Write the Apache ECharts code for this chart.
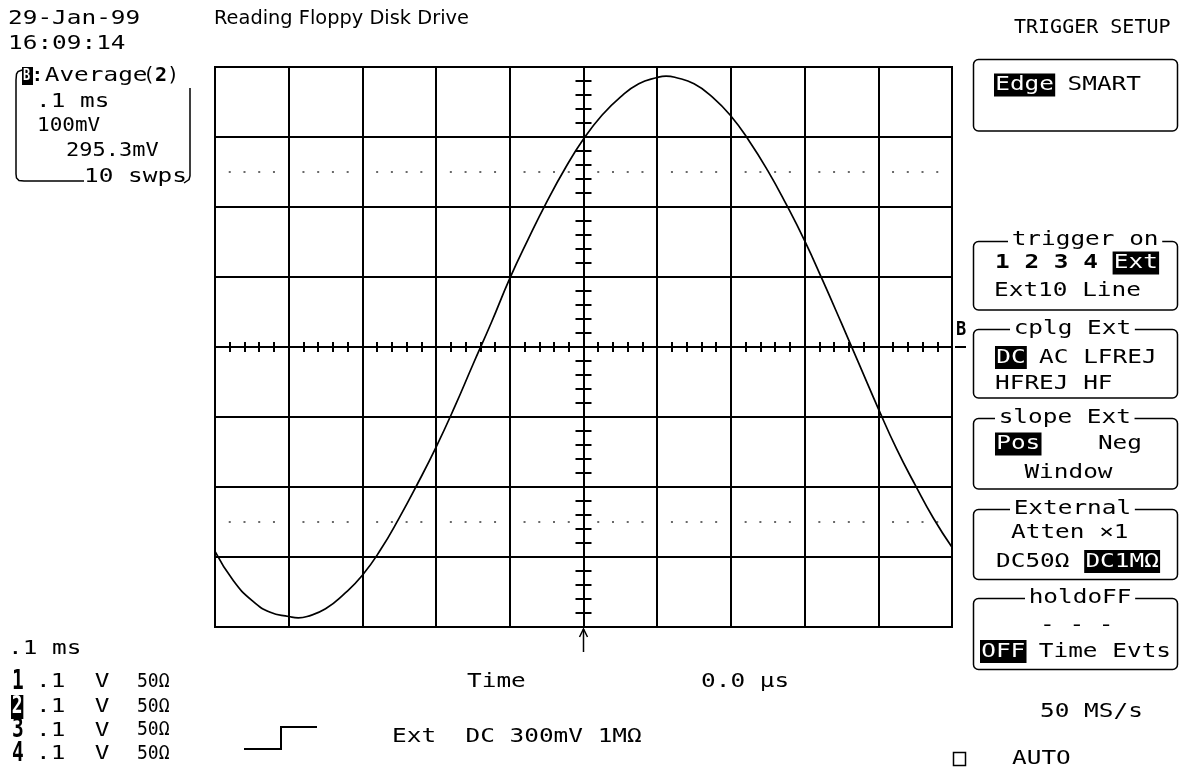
<!DOCTYPE html>
<html>
<head>
<meta charset="utf-8">
<script src="https://cdn.jsdelivr.net/npm/echarts@6/dist/echarts.min.js"></script>
<style>
html,body{margin:0;padding:0;background:#fff;}
#c{width:1179px;height:769px;}
</style>
</head>
<body>
<div id="c"></div>
<script>
// ---- data (time in µs, trace in mV) ----
const timeUs = [-500,-475,-450,-425,-400,-387,-375,-350,-325,-300,-275,-250,-225,-200,-175,-150,-125,-100,-75,-50,-25,0,25,50,75,100,112,125,150,175,200,225,250,275,300,325,350,375,400,425,450,475,500];
const traceMv = [-292,-334,-362,-379,-385,-387,-385,-374,-353,-326,-289,-244,-195,-143,-86,-25,35,98,154,207,255,297,331,357,376,385,387,385,376,357,330,294,252,204,152,94,34,-27,-88,-146,-197,-245,-286];
const dotLevelsMv = [250, -250];
const timeRange = [-500, 500];   // 0.1 ms/div, 10 div
const voltRange = [-400, 400];   // 100 mV/div, 8 div
const majorX = 100, majorY = 100, minorSplit = 5;

const tracePairs = timeUs.map((t, i) => [t, traceMv[i]]);
const dotPairs = [];
const minorStep = majorX / minorSplit;
dotLevelsMv.forEach(lv => {
  for (let t = timeRange[0]; t <= timeRange[1]; t += minorStep) {
    if (t % majorX !== 0) dotPairs.push([t, lv]);
  }
});

const FONT = '"DejaVu Sans Mono", monospace';
const CW = 14.7;
function txt(text, x, y, o) {
  o = o || {};
  const size = o.size || 20;
  const style = {
    text: text, x: 0, y: 0,
    fill: o.fill || '#000',
    font: (o.bold ? 'bold ' : '') + size + 'px ' + (o.family || FONT),
    align: 'left', textAlign: 'left',
    verticalAlign: 'middle', textVerticalAlign: 'middle'
  };
  if (o.bg) { style.backgroundColor = o.bg; style.padding = o.pad || [1, 1]; }
  return { type: 'text', x: x, y: y, scaleX: o.sx == null ? 1.22 : o.sx, z: o.z || 100, silent: true, style: style };
}
function hl(text, x, y, o) {
  o = o || {};
  return txt(text, x, y, Object.assign({ fill: '#fff', bg: '#000', pad: [2, 1, 1, 1] }, o));
}
function box(x, y, w, h) {
  return { type: 'rect', z: 90, silent: true, shape: { x: x, y: y, width: w, height: h, r: 5 },
    style: { fill: 'none', stroke: '#000', lineWidth: 1.5 } };
}
function title(text, x, y) {
  return txt(text, x, y, { bg: '#fff', pad: [0, 3, 0, 3] });
}
function line(points, w) {
  return { type: 'polyline', z: 95, silent: true, shape: { points: points },
    style: { stroke: '#000', lineWidth: w || 1.5, fill: 'none' } };
}

const graphics = [
  // header
  txt('29-Jan-99', 8, 19),
  txt('16:09:14', 8, 44),
  txt('Reading Floppy Disk Drive', 214, 19, { family: '"DejaVu Sans", sans-serif', size: 19, sx: 1.02 }),
  txt('TRIGGER SETUP', 1014, 28, { sx: 1.0 }),
  // trace info box
  { type: 'rect', z: 100, silent: true, shape: { x: 22, y: 67, width: 11, height: 18 }, style: { fill: '#000' } },
  txt('B', 23, 76, { fill: '#fff', bold: true, size: 16, sx: 0.75, z: 101 }),
  txt(':Average', 30, 76),
  txt('(', 143, 76, { sx: 1.0 }),
  txt('2', 155, 76, { bold: true, sx: 1.0 }),
  txt(')', 167, 76, { sx: 1.0 }),
  txt('.1 ms', 36, 102),
  txt('100mV', 37, 126, { sx: 1.05 }),
  txt('295.3mV', 66, 151, { sx: 1.1 }),
  txt('10 swps', 84, 177),
  line([[22, 70], [18, 71.5], [16.5, 74], [16, 80], [16, 174], [16.5, 178], [19, 180.5], [24, 181], [84, 181]], 1.5),
  line([[190, 88], [190, 176], [189, 179.5], [184, 183]], 1.5),

  // right panel boxes
  box(973.5, 59.5, 204, 71.5),
  hl('Edge', 994, 85),
  txt('SMART', 994 + 5 * CW, 85),

  box(973.5, 241.5, 204, 68.5),
  title('trigger on', 1008, 240),
  txt('1 2 3 4', 995, 263, { bold: true }),
  hl('Ext', 995 + 8 * CW, 263),
  txt('Ext10 Line', 994, 291),

  box(973.5, 329.5, 204, 68.5),
  title('cplg Ext', 1010, 329),
  hl('DC', 995, 357.5),
  txt('AC LFREJ', 995 + 3 * CW, 357.5),
  txt('HFREJ HF', 995, 384),

  box(973.5, 418.5, 204, 70.5),
  title('slope Ext', 995, 418),
  hl('Pos', 995, 444),
  txt('Neg', 995 + 7 * CW, 444),
  txt('Window', 995 + 2 * CW, 473),

  box(973.5, 509.5, 204, 70),
  title('External', 1010, 509),
  txt('Atten \u00d71', 1011, 533),
  txt('DC50\u03a9', 996, 561.5),
  hl('DC1M\u03a9', 996 + 6 * CW, 561.5),

  box(973.5, 598.5, 204, 71),
  title('holdoFF', 1025, 598),
  txt('- - -', 1040, 626),
  hl('OFF', 980, 651.5),
  txt('Time Evts', 980 + 4 * CW, 651.5),

  txt('50 MS/s', 1040, 711.5),
  { type: 'rect', z: 95, silent: true, shape: { x: 953.5, y: 752.5, width: 12, height: 13 },
    style: { fill: 'none', stroke: '#000', lineWidth: 1.5 } },
  txt('AUTO', 1012, 759),

  // bottom left channel list
  txt('.1 ms', 8, 649),
  txt('1', 12, 682, { bold: true, size: 26, sx: 0.75 }),
  hl('2', 11, 707, { bold: true, size: 24, sx: 0.75, pad: [0, 1, 0, 1] }),
  txt('3', 12, 730.5, { bold: true, size: 26, sx: 0.75 }),
  txt('4', 12, 754, { bold: true, size: 26, sx: 0.75 }),
  txt('.1  V', 36, 682), txt('.1  V', 36, 707), txt('.1  V', 36, 730.5), txt('.1  V', 36, 754),
  txt('50\u03a9', 137, 682, { sx: 0.95, size: 19 }),
  txt('50\u03a9', 137, 707, { sx: 0.95, size: 19 }),
  txt('50\u03a9', 137, 730.5, { sx: 0.95, size: 19 }),
  txt('50\u03a9', 137, 754, { sx: 0.95, size: 19 }),

  // trigger symbol & info
  line([[244, 749], [281, 749], [281, 727], [317, 727]], 2),
  txt('Ext  DC 300mV 1M\u03a9', 392, 736.5),
  txt('Time', 467, 682),
  txt('0.0 \u00b5s', 701, 682),

  // trigger arrow below grid
  line([[583.5, 629], [583.5, 652]], 1.5),
  line([[579.5, 637], [583.5, 629], [587.5, 637]], 1.5),

  // trace marker at right edge
  txt('B', 956, 330, { bold: true, size: 20, sx: 0.85 }),
  line([[955, 347], [966, 347]], 2)
];

const gridLine = { color: '#000', width: 2 };
const chart = echarts.init(document.getElementById('c'), null, { renderer: 'canvas' });
chart.setOption({
  backgroundColor: '#fff',
  animation: false,
  grid: { left: 215, top: 67, right: 227, bottom: 142, show: true, borderColor: '#000', borderWidth: 2,
    containLabel: false, outerBoundsMode: 'none' },
  xAxis: [
    { type: 'value', min: timeRange[0], max: timeRange[1], interval: majorX, position: 'bottom',
      axisLine: { show: true, onZero: true, onZeroAxisIndex: 0, lineStyle: gridLine },
      axisTick: { show: false }, axisLabel: { show: false },
      minorTick: { show: true, splitNumber: minorSplit, length: 5, lineStyle: gridLine },
      splitLine: { show: true, lineStyle: gridLine }, minorSplitLine: { show: false } },
    { type: 'value', min: timeRange[0], max: timeRange[1], interval: majorX, position: 'top',
      axisLine: { show: false, onZero: true, onZeroAxisIndex: 0 },
      axisTick: { show: false }, axisLabel: { show: false },
      minorTick: { show: true, splitNumber: minorSplit, length: 5, lineStyle: gridLine },
      splitLine: { show: false } }
  ],
  yAxis: [
    { type: 'value', min: voltRange[0], max: voltRange[1], interval: majorY, position: 'left',
      axisLine: { show: true, onZero: true, onZeroAxisIndex: 0, lineStyle: gridLine },
      axisTick: { show: false }, axisLabel: { show: false },
      minorTick: { show: true, splitNumber: minorSplit, length: 8, lineStyle: gridLine },
      splitLine: { show: true, lineStyle: gridLine }, minorSplitLine: { show: false } },
    { type: 'value', min: voltRange[0], max: voltRange[1], interval: majorY, position: 'right',
      axisLine: { show: false, onZero: true, onZeroAxisIndex: 0 },
      axisTick: { show: false }, axisLabel: { show: false },
      minorTick: { show: true, splitNumber: minorSplit, length: 8, lineStyle: gridLine },
      splitLine: { show: false } }
  ],
  series: [
    { type: 'scatter', xAxisIndex: 0, yAxisIndex: 0, data: dotPairs, symbol: 'rect', symbolSize: 2,
      itemStyle: { color: '#444' }, silent: true, z: 1 },
    { type: 'line', xAxisIndex: 0, yAxisIndex: 0, data: tracePairs, showSymbol: false, smooth: 0.5,
      lineStyle: { color: '#000', width: 1.7 }, silent: true, z: 3 }
  ],
  graphic: { elements: graphics }
});
</script>
</body>
</html>
